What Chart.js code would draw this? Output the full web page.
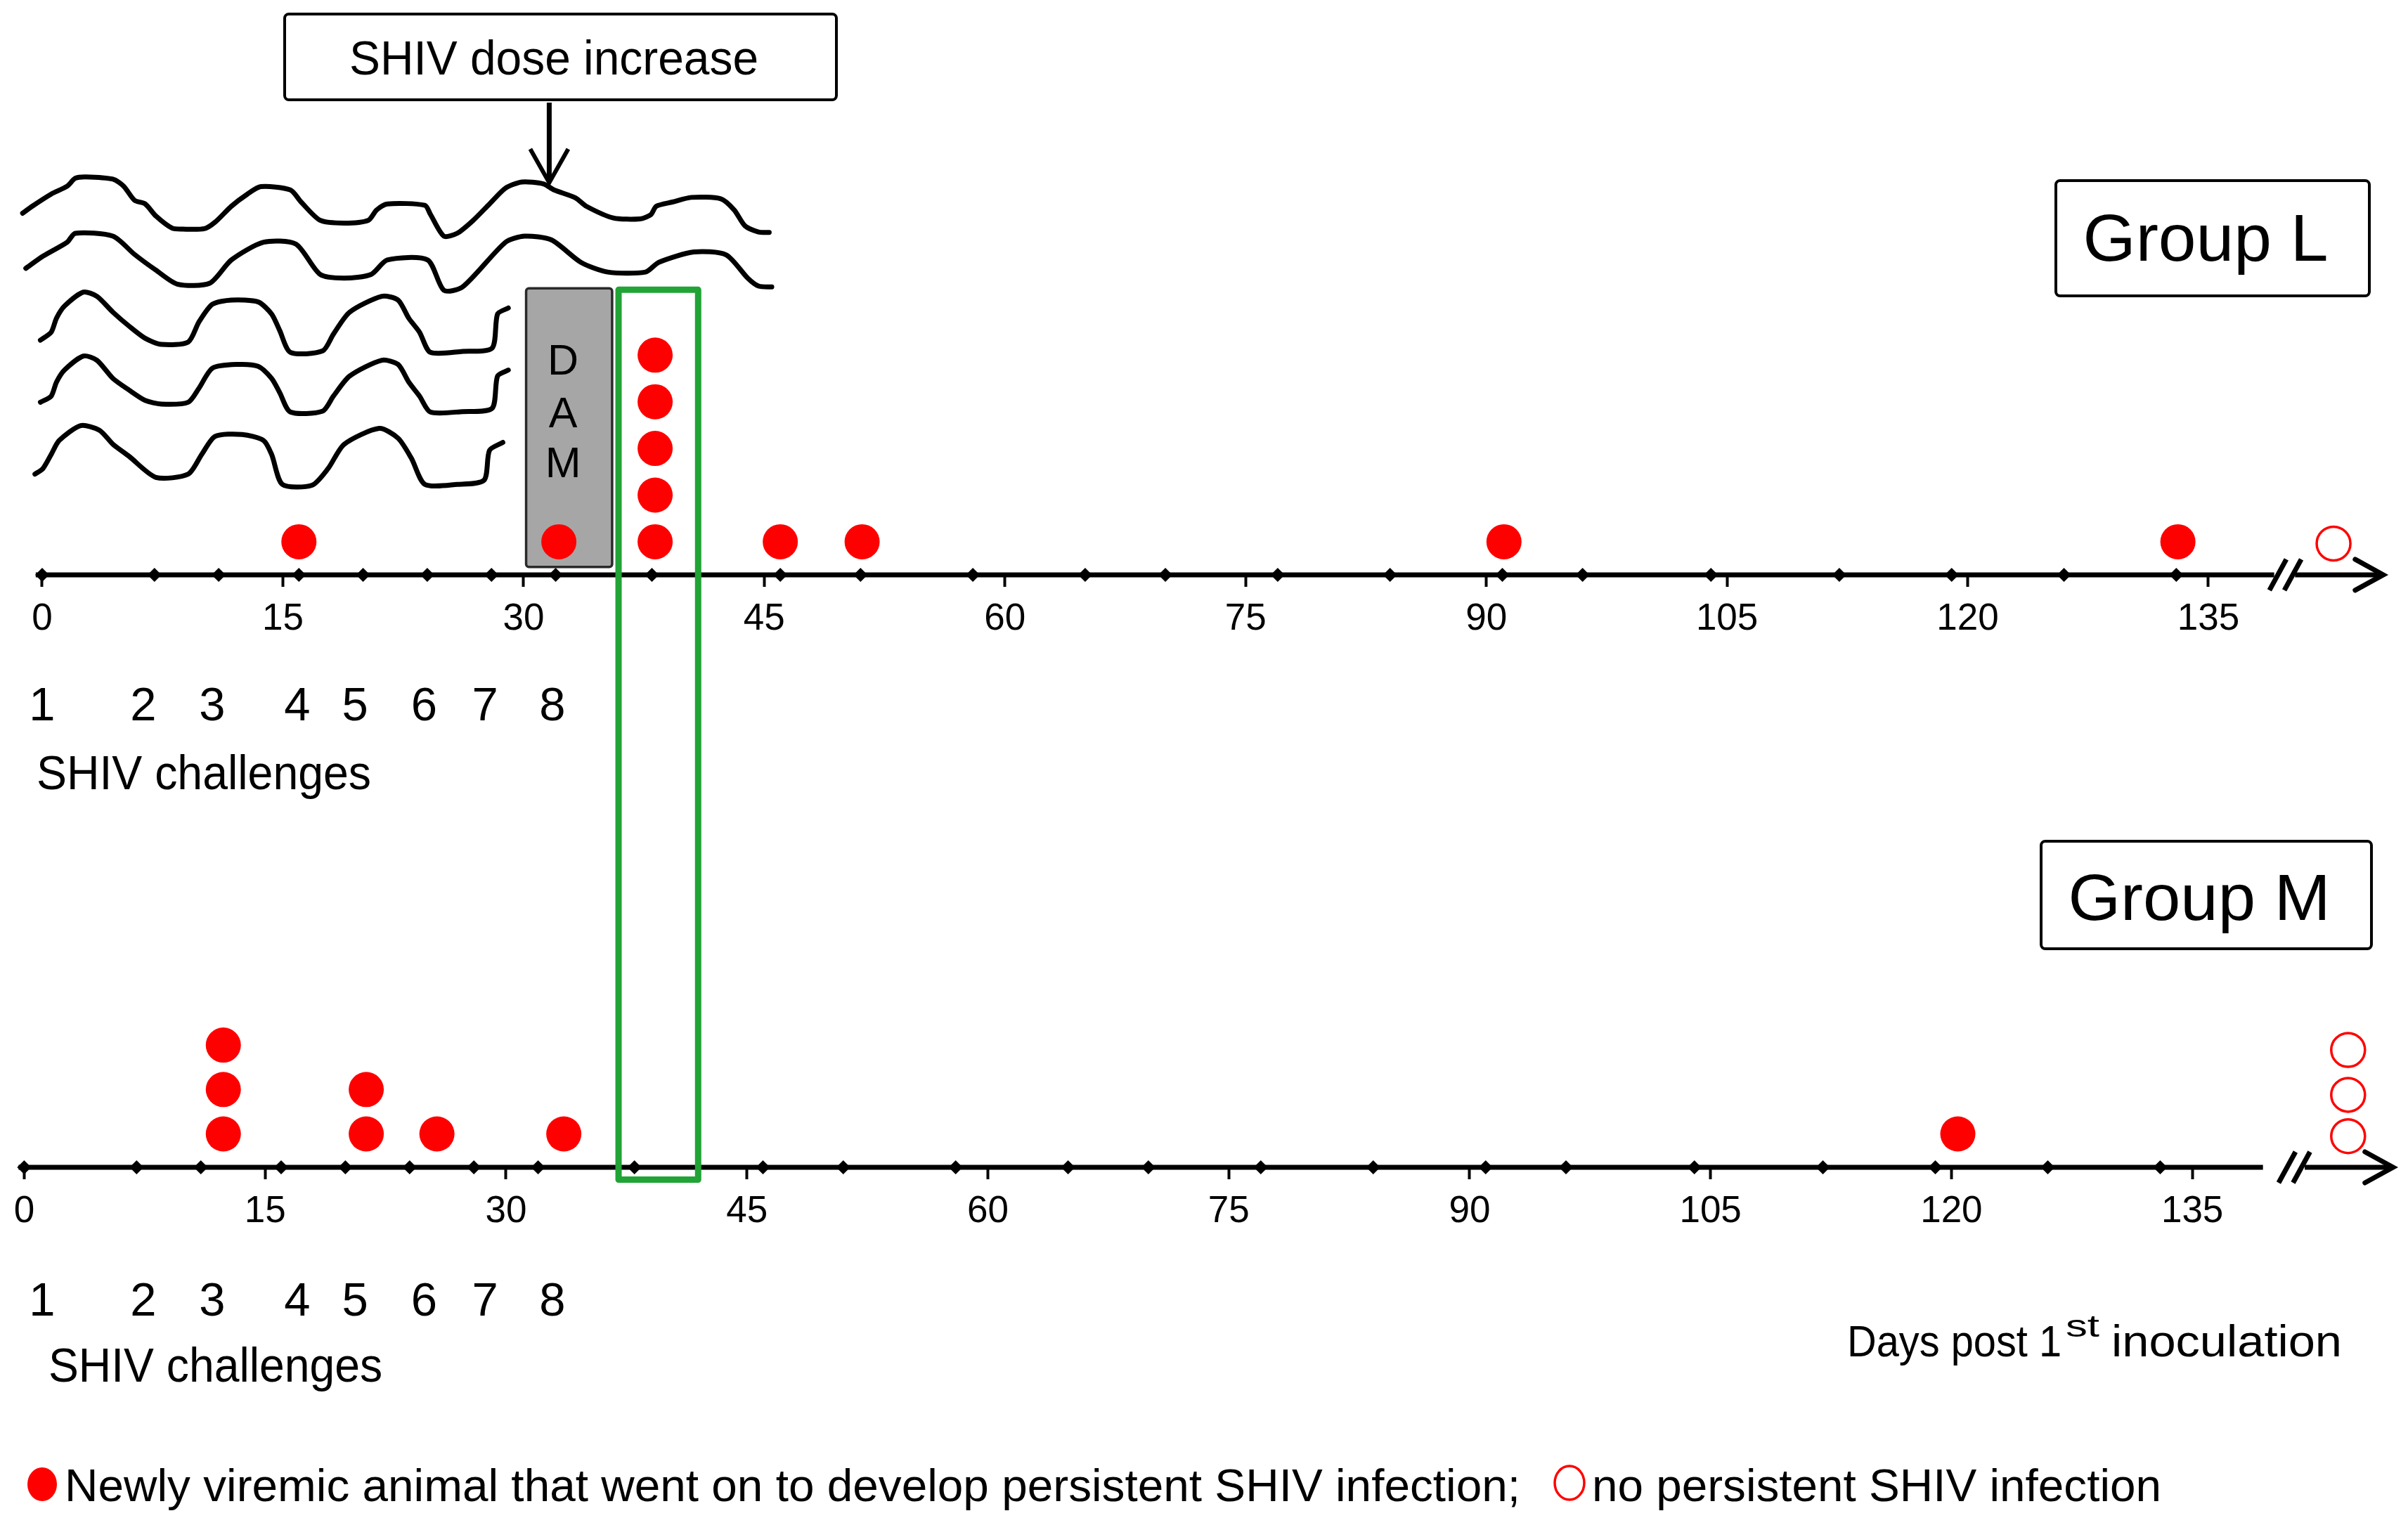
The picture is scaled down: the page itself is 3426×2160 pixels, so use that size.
<!DOCTYPE html>
<html>
<head>
<meta charset="utf-8">
<title>SHIV challenges - Group L / Group M</title>
<script src="https://cdn.jsdelivr.net/npm/chart.js@4.4.1/dist/chart.umd.min.js"></script>
<style>
  html, body { margin: 0; padding: 0; background: #fff; }
  #wrap { width: 3426px; height: 2160px; position: relative; }
</style>
</head>
<body>
<div id="wrap"><canvas id="fig"></canvas></div>
<script>
const FONT = "'Liberation Sans', Arial, Helvetica, sans-serif";

// time axis (days post 1st inoculation)
const dayTicks = [0, 15, 30, 45, 60, 75, 90, 105, 120, 135];
const sampleDays = [0, 7, 11, 16, 20, 24, 28, 32, 38, 46, 51, 58, 65, 70, 77, 84, 91, 96, 104, 112, 119, 126, 133];
const challengeNumbers = ["1", "2", "3", "4", "5", "6", "7", "8"];
const challengeLabelDays = [0, 6.3, 10.6, 15.9, 19.5, 23.8, 27.6, 31.8];

// newly viremic animals (day, stack level)
const groupLDays = [16, 32.2, 38.2, 38.2, 38.2, 38.2, 38.2, 46, 51.1, 91.1, 133.1];
const groupLLevels = [1, 1, 1, 2, 3, 4, 5, 1, 1, 1, 1];
const groupLNoInfDays = [142.8];
const groupLNoInfLevels = [0.96];

const groupMDays = [12.4, 12.4, 12.4, 21.3, 21.3, 25.7, 33.6, 120.4];
const groupMLevels = [1, 2, 3, 1, 2, 1, 1, 1];
const groupMNoInfDays = [144.7, 144.7, 144.7];
const groupMNoInfLevels = [0.95, 1.88, 2.89];

// cycle traces drawn above the group L axis
const wave1Days = [-1.22, -0.62, 0.56, 1.56, 2.06, 2.74, 4.41, 5.08, 5.75, 6.42, 7.09, 8.10, 8.77, 10.11, 10.78, 11.79, 12.79, 13.63, 15.47, 16.14, 17.32, 18.82, 20.33, 20.84, 21.51, 23.85, 24.19, 25.03, 25.86, 26.87, 27.88, 28.88, 29.89, 31.23, 31.90, 33.24, 33.91, 35.59, 37.26, 37.93, 38.27, 39.27, 40.45, 42.29, 43.13, 43.80, 44.64, 45.31];
const wave1Levels = [8.04, 8.19, 8.45, 8.62, 8.79, 8.82, 8.77, 8.62, 8.32, 8.24, 7.98, 7.72, 7.70, 7.71, 7.85, 8.19, 8.45, 8.61, 8.54, 8.28, 7.89, 7.83, 7.89, 8.11, 8.24, 8.21, 8.02, 7.55, 7.61, 7.89, 8.24, 8.58, 8.71, 8.67, 8.54, 8.37, 8.19, 7.94, 7.92, 8.01, 8.19, 8.28, 8.38, 8.35, 8.11, 7.77, 7.64, 7.63];
const wave2Days = [-1.02, 0.05, 1.56, 2.06, 4.41, 5.75, 7.09, 8.43, 10.44, 11.79, 13.80, 15.81, 17.32, 18.82, 20.50, 21.51, 24.02, 25.03, 26.20, 28.88, 30.06, 31.73, 33.57, 35.25, 37.60, 38.43, 40.61, 42.62, 43.97, 44.64, 45.47];
const wave2Levels = [6.86, 7.12, 7.42, 7.61, 7.55, 7.16, 6.82, 6.52, 6.54, 7.04, 7.42, 7.38, 6.73, 6.65, 6.73, 7.04, 7.04, 6.39, 6.46, 7.42, 7.55, 7.47, 6.99, 6.78, 6.78, 6.99, 7.21, 7.15, 6.65, 6.48, 6.46];
const wave3Days = [-0.11, 0.56, 0.89, 1.39, 2.57, 3.41, 4.41, 5.42, 6.42, 7.43, 9.10, 9.77, 10.61, 11.79, 13.46, 14.30, 14.80, 15.47, 17.48, 18.15, 19.16, 21.17, 22.18, 22.85, 23.52, 24.19, 26.20, 28.04, 28.38, 29.05];
const wave3Levels = [5.32, 5.49, 5.79, 6.05, 6.35, 6.26, 5.92, 5.62, 5.36, 5.23, 5.28, 5.71, 6.09, 6.18, 6.14, 5.88, 5.53, 5.06, 5.09, 5.45, 5.92, 6.26, 6.18, 5.79, 5.49, 5.06, 5.08, 5.15, 5.88, 6.01];
const wave4Days = [-0.11, 0.56, 0.89, 1.39, 2.57, 3.41, 4.41, 5.42, 6.42, 7.43, 9.10, 9.77, 10.61, 12.12, 13.46, 14.30, 14.80, 15.47, 17.48, 18.15, 19.16, 21.17, 22.18, 22.85, 23.52, 24.19, 26.20, 28.04, 28.38, 29.05];
const wave4Levels = [3.99, 4.12, 4.42, 4.68, 4.98, 4.89, 4.50, 4.25, 4.03, 3.95, 3.99, 4.29, 4.72, 4.80, 4.76, 4.50, 4.20, 3.78, 3.80, 4.12, 4.55, 4.89, 4.80, 4.42, 4.12, 3.78, 3.79, 3.86, 4.55, 4.68];
const wave5Days = [-0.45, 0.05, 0.56, 1.06, 2.40, 3.57, 4.41, 5.42, 7.09, 9.10, 9.94, 10.78, 12.46, 13.80, 14.30, 14.97, 16.81, 17.82, 18.82, 21.00, 22.18, 23.01, 23.85, 25.86, 27.54, 27.88, 28.71];
const wave5Levels = [2.45, 2.57, 2.87, 3.17, 3.49, 3.39, 3.09, 2.83, 2.38, 2.45, 2.87, 3.26, 3.30, 3.17, 2.87, 2.23, 2.21, 2.57, 3.09, 3.43, 3.22, 2.79, 2.23, 2.23, 2.32, 2.96, 3.13];

// annotations (days / levels)
const damWindow = { from: 30.16, to: 35.52, low: 0.46, high: 6.43 };
const damLetters = ["D", "A", "M"];
const damLetterLevels = [4.58, 3.46, 2.38];
const damLetterDay = 32.46;
const greenWindow = { from: 35.92, to: 40.88, topL: 6.40, bottomM: -0.03 };
const doseIncreaseDay = 31.6;

const axisLevelL = 0.292, axisLevelM = 0.248;
const challengeLevelL = -1.949, challengeLevelM = -2.169;
const axisL = { start: -0.4, end: 139.1, slashes: [139.33, 140.26], tailStart: 140.4, tip: 145.9 };
const axisM = { start: -0.35, end: 139.4, slashes: [140.9, 141.8], tailStart: 142.0, tip: 147.5 };

const RED = "#ff0000";
const GREEN = "#21a336";

const pts = (xs, ys) => xs.map((x, i) => ({ x: x, y: ys[i] }));
const flat = (xs, level) => xs.map(x => ({ x: x, y: level }));

function waveSet(xs, ys) {
  return {
    data: pts(xs, ys), xAxisID: "xL", yAxisID: "yL", showLine: true,
    borderColor: "#000", borderWidth: 7, pointRadius: 0, tension: 0.25,
    borderJoinStyle: "round", borderCapStyle: "round"
  };
}
function axisSet(xs, level, xId, yId) {
  return {
    data: flat(xs, level), xAxisID: xId, yAxisID: yId, showLine: true,
    borderColor: "#000", borderWidth: 7, pointRadius: 0
  };
}

function drawText(ctx, text, x, y, size, width, align) {
  ctx.save();
  ctx.font = size + "px " + FONT;
  const k = width ? width / ctx.measureText(text).width : 1;
  ctx.translate(x, y);
  ctx.scale(k, 1);
  ctx.textAlign = align || "left";
  ctx.textBaseline = "alphabetic";
  ctx.fillStyle = "#000";
  ctx.fillText(text, 0, 0);
  ctx.restore();
}

function labelBox(ctx, x, y, w, h) {
  ctx.save();
  ctx.fillStyle = "#fff";
  ctx.strokeStyle = "#000";
  ctx.lineWidth = 4;
  ctx.beginPath();
  if (ctx.roundRect) ctx.roundRect(x, y, w, h, 6); else ctx.rect(x, y, w, h);
  ctx.fill();
  ctx.stroke();
  ctx.restore();
}

function axisEnd(ctx, scales, ax, level, xId, yId) {
  const sx = scales[xId], sy = scales[yId];
  const y = sy.getPixelForValue(level);
  ctx.save();
  ctx.strokeStyle = "#000";
  ctx.lineWidth = 7;
  ax.slashes.forEach(d => {
    const x = sx.getPixelForValue(d);
    ctx.beginPath();
    ctx.moveTo(x - 12, y + 22);
    ctx.lineTo(x + 12, y - 22);
    ctx.stroke();
  });
  const tip = sx.getPixelForValue(ax.tip);
  ctx.lineJoin = "miter";
  ctx.lineCap = "round";
  ctx.beginPath();
  ctx.moveTo(tip - 40, y - 22);
  ctx.lineTo(tip, y);
  ctx.lineTo(tip - 40, y + 22);
  ctx.stroke();
  ctx.restore();
}

const decorPlugin = {
  id: "decor",
  beforeDatasetsDraw(chart) {
    const { ctx, scales } = chart;
    const xL = scales.xL, yL = scales.yL;
    const x0 = xL.getPixelForValue(damWindow.from), x1 = xL.getPixelForValue(damWindow.to);
    const y0 = yL.getPixelForValue(damWindow.high), y1 = yL.getPixelForValue(damWindow.low);
    ctx.save();
    ctx.fillStyle = "#a6a6a6";
    ctx.strokeStyle = "#2a2a2a";
    ctx.lineWidth = 3.5;
    ctx.beginPath();
    if (ctx.roundRect) ctx.roundRect(x0, y0, x1 - x0, y1 - y0, 4); else ctx.rect(x0, y0, x1 - x0, y1 - y0);
    ctx.fill();
    ctx.stroke();
    ctx.restore();
    damLetters.forEach((ch, i) => {
      drawText(ctx, ch, xL.getPixelForValue(damLetterDay), yL.getPixelForValue(damLetterLevels[i]), 61, null, "center");
    });
  },
  afterDatasetsDraw(chart) {
    const { ctx, scales } = chart;
    const xL = scales.xL, yL = scales.yL, yM = scales.yM;

    // window after DAM treatment, across both groups
    const gx0 = xL.getPixelForValue(greenWindow.from), gx1 = xL.getPixelForValue(greenWindow.to);
    const gy0 = yL.getPixelForValue(greenWindow.topL), gy1 = yM.getPixelForValue(greenWindow.bottomM);
    ctx.save();
    ctx.strokeStyle = GREEN;
    ctx.lineWidth = 9;
    ctx.lineJoin = "round";
    ctx.strokeRect(gx0, gy0, gx1 - gx0, gy1 - gy0);
    ctx.restore();

    // axis breaks and arrow heads
    axisEnd(ctx, scales, axisL, axisLevelL, "xL", "yL");
    axisEnd(ctx, scales, axisM, axisLevelM, "xM", "yM");

    // dose increase call-out
    labelBox(ctx, 405, 20, 785, 122);
    drawText(ctx, "SHIV dose increase", 788, 106, 68, 582, "center");
    const ax = xL.getPixelForValue(doseIncreaseDay);
    ctx.save();
    ctx.strokeStyle = "#000";
    ctx.lineWidth = 7;
    ctx.beginPath();
    ctx.moveTo(ax, 146);
    ctx.lineTo(ax, 255);
    ctx.stroke();
    ctx.lineWidth = 6;
    ctx.beginPath();
    ctx.moveTo(ax - 27, 212);
    ctx.lineTo(ax, 260);
    ctx.lineTo(ax + 27, 212);
    ctx.stroke();
    ctx.restore();

    // group labels
    labelBox(ctx, 2925, 257, 446, 164);
    drawText(ctx, "Group L", 3138, 371, 95, 349, "center");
    labelBox(ctx, 2904, 1197, 470, 153);
    drawText(ctx, "Group M", 3129, 1309, 93, 373, "center");

    // axis captions
    drawText(ctx, "SHIV challenges", 52, 1123, 68, 476);
    drawText(ctx, "SHIV challenges", 69, 1966, 68, 475);
    drawText(ctx, "Days post 1", 2628, 1930, 63, 305);
    drawText(ctx, "st", 2939, 1902, 44, 48);
    drawText(ctx, "inoculation", 3004, 1930, 63, 328);

    // key
    ctx.save();
    ctx.fillStyle = RED;
    ctx.beginPath();
    ctx.ellipse(60, 2112, 21, 24, 0, 0, Math.PI * 2);
    ctx.fill();
    ctx.strokeStyle = RED;
    ctx.lineWidth = 3.5;
    ctx.beginPath();
    ctx.ellipse(2233, 2110, 21, 24, 0, 0, Math.PI * 2);
    ctx.stroke();
    ctx.restore();
    drawText(ctx, "Newly viremic animal that went on to develop persistent SHIV infection;", 92, 2136, 65, 2071);
    drawText(ctx, "no persistent SHIV infection", 2265, 2136, 65, 810);
  }
};

const tickFont = { family: FONT, size: 53 };
const challengeFont = { family: FONT, size: 67 };

function dayAxis(level, yId, min, max) {
  return {
    type: "linear", axis: "x", min: min, max: max, bounds: "data",
    position: { [yId]: level },
    border: { display: false },
    grid: { display: true, drawOnChartArea: false, drawTicks: true, tickLength: 17, tickWidth: 4, tickColor: "#000" },
    afterBuildTicks: s => { s.ticks = dayTicks.map(v => ({ value: v })); },
    ticks: { autoSkip: false, maxRotation: 0, minRotation: 0, padding: 15, color: "#000", font: tickFont, callback: v => String(v) }
  };
}
function challengeAxis(level, yId) {
  return {
    type: "linear", axis: "x", min: -2.628, max: 147.44, bounds: "data",
    position: { [yId]: level },
    border: { display: false },
    grid: { display: false, drawTicks: false },
    afterBuildTicks: s => { s.ticks = challengeLabelDays.map(v => ({ value: v })); },
    ticks: { autoSkip: false, maxRotation: 0, minRotation: 0, padding: 0, color: "#000", font: challengeFont,
      callback: (v, i) => challengeNumbers[i] }
  };
}

new Chart(document.getElementById("fig"), {
  type: "scatter",
  data: {
    datasets: [
      { data: pts(groupLDays, groupLLevels), xAxisID: "xL", yAxisID: "yL", pointRadius: 25, pointBackgroundColor: RED, pointBorderWidth: 0 },
      { data: pts(groupLNoInfDays, groupLNoInfLevels), xAxisID: "xL", yAxisID: "yL", pointRadius: 24, pointBackgroundColor: "#fff", pointBorderColor: RED, pointBorderWidth: 3.5 },
      { data: pts(groupMDays, groupMLevels), xAxisID: "xM", yAxisID: "yM", pointRadius: 25, pointBackgroundColor: RED, pointBorderWidth: 0 },
      { data: pts(groupMNoInfDays, groupMNoInfLevels), xAxisID: "xM", yAxisID: "yM", pointRadius: 24, pointBackgroundColor: "#fff", pointBorderColor: RED, pointBorderWidth: 3.5 },
      { data: flat(sampleDays, axisLevelL), xAxisID: "xL", yAxisID: "yL", pointStyle: "rectRot", pointRadius: 10, pointBackgroundColor: "#000", pointBorderWidth: 0 },
      { data: flat(sampleDays, axisLevelM), xAxisID: "xM", yAxisID: "yM", pointStyle: "rectRot", pointRadius: 10, pointBackgroundColor: "#000", pointBorderWidth: 0 },
      axisSet([axisL.start, axisL.end], axisLevelL, "xL", "yL"),
      axisSet([axisL.tailStart, axisL.tip], axisLevelL, "xL", "yL"),
      axisSet([axisM.start, axisM.end], axisLevelM, "xM", "yM"),
      axisSet([axisM.tailStart, axisM.tip], axisLevelM, "xM", "yM"),
      waveSet(wave1Days, wave1Levels),
      waveSet(wave2Days, wave2Levels),
      waveSet(wave3Days, wave3Levels),
      waveSet(wave4Days, wave4Levels),
      waveSet(wave5Days, wave5Levels)
    ]
  },
  options: {
    responsive: true,
    maintainAspectRatio: false,
    devicePixelRatio: 1,
    animation: false,
    events: [],
    layout: { padding: 0, autoPadding: false },
    plugins: { legend: { display: false }, tooltip: { enabled: false } },
    scales: {
      yL: { type: "linear", axis: "y", display: false, min: -19.92, max: 12.61, bounds: "data" },
      yM: { type: "linear", axis: "y", display: false, min: -7.647, max: 26.53, bounds: "data" },
      xL: dayAxis(axisLevelL, "yL", -2.628, 147.44),
      xM: dayAxis(axisLevelM, "yM", -1.505, 148.43),
      xCL: challengeAxis(challengeLevelL, "yL"),
      xCM: challengeAxis(challengeLevelM, "yM")
    }
  },
  plugins: [decorPlugin]
});
</script>
</body>
</html>
